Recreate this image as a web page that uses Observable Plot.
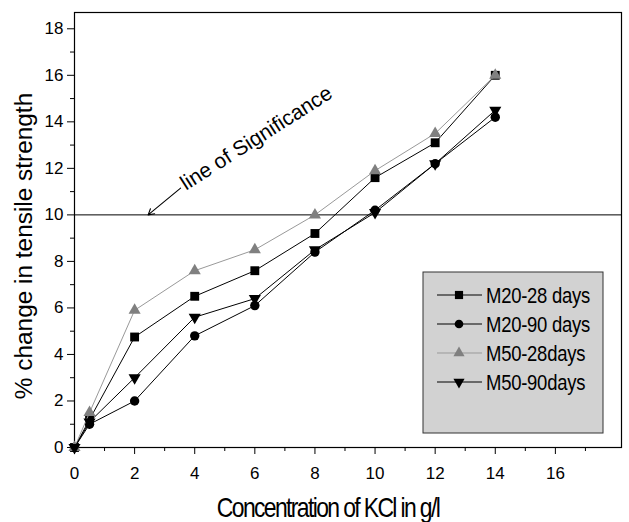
<!DOCTYPE html>
<html><head>
<meta charset="utf-8">
<script src="https://cdn.jsdelivr.net/npm/d3@7"></script>
<script src="https://cdn.jsdelivr.net/npm/@observablehq/plot@0.6"></script>
<style>
body{margin:0;background:#fff}
#chart{position:relative;width:629px;height:522px;font-family:"Liberation Sans",Arial,sans-serif}
</style>
</head><body><div id="chart"></div>
<script>
// ---- data ----
const concentrations = [0, 0.5, 2, 4, 6, 8, 10, 12, 14];
const m20_28 = [0, 1.2, 4.75, 6.5, 7.6, 9.2, 11.6, 13.1, 16.0];
const m20_90 = [0, 1.0, 2.0, 4.8, 6.1, 8.4, 10.2, 12.2, 14.2];
const m50_28 = [0, 1.5, 5.9, 7.6, 8.5, 10.0, 11.9, 13.5, 16.0];
const m50_90 = [0, 1.1, 3.0, 5.6, 6.4, 8.5, 10.1, 12.2, 14.5];
const seriesNames = ["M20-28 days", "M20-90 days", "M50-28days", "M50-90days"];
const significanceLevel = 10;
const xMajorTicks = [0, 2, 4, 6, 8, 10, 12, 14, 16];
const xMinorTicks = [1, 3, 5, 7, 9, 11, 13, 15, 17];
const yMajorTicks = [0, 2, 4, 6, 8, 10, 12, 14, 16, 18];
const yMinorTicks = [1, 3, 5, 7, 9, 11, 13, 15, 17];
const xTitle = "Concentration of KCl in g/l";
const yTitle = "% change in tensile strength";
const annotationText = "line of Significance";
// annotation anchor (data space)
const annotationPos = {x: 6.05, y: 13.3};
const arrowFrom = {x: 3.53, y: 11.15};
const arrowTo = {x: 2.45, y: 10};

// ---- symbols ----
const triDown = {
  draw(ctx, size) {
    const s3 = Math.sqrt(3);
    const y = -Math.sqrt(size / (s3 * 3));
    ctx.moveTo(0, -y * 2);
    ctx.lineTo(-s3 * y, y);
    ctx.lineTo(s3 * y, y);
    ctx.closePath();
  }
};
const styles = [
  {values: m20_28, symbol: "square", line: "#000", fill: "#000", r: 5},
  {values: m20_90, symbol: "circle", line: "#000", fill: "#000", r: 4.7},
  {values: m50_28, symbol: "triangle", line: "#999", fill: "#808080", r: 4.5},
  {values: m50_90, symbol: triDown, line: "#000", fill: "#000", r: 4.5}
];
const series = styles.map((s, i) => ({
  ...s, name: seriesNames[i],
  data: concentrations.map((c, j) => ({x: c, y: s.values[j]}))
}));

const marks = [
  Plot.ruleY([significanceLevel], {stroke: "#000", strokeWidth: 1}),
  Plot.axisX({ticks: xMinorTicks, tickSize: 4, tickFormat: () => "", label: null}),
  Plot.axisX({ticks: xMajorTicks, tickSize: 7, tickPadding: 12, label: null, fontSize: 17}),
  Plot.axisY({ticks: yMinorTicks, tickSize: 4, tickFormat: () => "", label: null}),
  Plot.axisY({ticks: yMajorTicks, tickSize: 7, tickPadding: 4, label: null, fontSize: 17}),
  Plot.frame({stroke: "#000", strokeWidth: 1.2}),
  Plot.arrow([0], {x1: () => arrowFrom.x, y1: () => arrowFrom.y, x2: () => arrowTo.x, y2: () => arrowTo.y,
    stroke: "#000", strokeWidth: 1.1, headLength: 9, bend: 0}),
  Plot.text([annotationText], {x: () => annotationPos.x, y: () => annotationPos.y, text: d => d,
    rotate: -32.5, fontSize: 21, fill: "#000", fontFamily: "Liberation Sans, Arial, sans-serif"})
];
for (const s of series) {
  marks.push(Plot.line(s.data, {x: "x", y: "y", stroke: s.line, strokeWidth: 1}));
  marks.push(Plot.dot(s.data, {x: "x", y: "y", symbol: () => s.symbol, r: s.r, fill: s.fill, stroke: "none"}));
}

const plot = Plot.plot({
  width: 629, height: 522,
  marginLeft: 74, marginRight: 8, marginTop: 12, marginBottom: 75,
  x: {domain: [0, 18.2], label: null},
  y: {domain: [0, 18.7], label: null},
  symbol: {type: "identity"},
  style: {fontFamily: "Liberation Sans, Arial, sans-serif", fontSize: "17px", color: "#000", background: "#fff", overflow: "visible"},
  marks
});
document.getElementById("chart").appendChild(plot);

// ---- titles ----
const svg = d3.select(plot);
svg.append("text").attr("transform", "translate(328,517) scale(0.82,1)").attr("text-anchor", "middle")
  .attr("font-size", 28).attr("letter-spacing", -2.0).attr("fill", "#000").text(xTitle);
svg.append("text").attr("transform", "translate(32,246) rotate(-90)").attr("text-anchor", "middle")
  .attr("font-size", 24.4).attr("fill", "#000").text(yTitle);

// ---- legend ----
const lg = svg.append("g").attr("transform", "translate(423,272)");
lg.append("rect").attr("width", 180).attr("height", 161).attr("fill", "#d2d2d2").attr("stroke", "#333").attr("stroke-width", 1);
series.forEach((s, i) => {
  const cy = 23 + i * 29;
  lg.append("line").attr("x1", 14).attr("x2", 59).attr("y1", cy).attr("y2", cy).attr("stroke", s.line).attr("stroke-width", 1);
  const sym = typeof s.symbol === "string" ? {square: d3.symbolSquare, circle: d3.symbolCircle, triangle: d3.symbolTriangle}[s.symbol] : s.symbol;
  lg.append("path").attr("transform", `translate(36,${cy})`)
    .attr("d", d3.symbol(sym, Math.PI * s.r * s.r * 0.85)()).attr("fill", s.fill);
  lg.append("text").attr("transform", `translate(63,${cy + 7.5}) scale(0.86,1)`).attr("text-anchor", "start")
    .attr("font-size", 21.5).attr("letter-spacing", -0.3).attr("fill", "#000").text(s.name);
});
</script>
</body></html>
